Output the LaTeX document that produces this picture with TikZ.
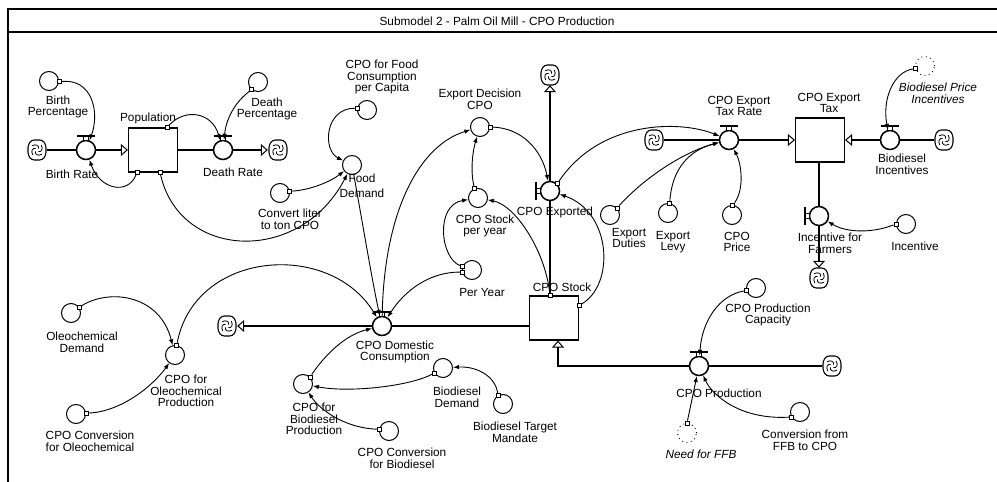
\documentclass[tikz,border=0pt]{standalone}
\usepackage{fontspec}
\setmainfont{Liberation Sans}
\usetikzlibrary{arrows.meta}
\tikzset{
  cloudpic/.pic={
    \draw[line width=1.1pt,rounded corners=2.8pt,fill=white]
      (-9,-5) -- (-5.5,-10) -- (5.5,-10) -- (9,-5) -- (9,5) -- (5.5,10) -- (-5.5,10) -- (-9,5) -- cycle;
    \foreach \r in {0,90,180,270}{
      \draw[line width=0.8pt,rotate=\r] (-5,-4.2) .. controls (-1,-6.5) and (2.2,-4.5) .. (1.6,-1.3);}
  },
  valvebarh/.pic={
    \draw[line width=1.3pt] (-9,-14) -- (9,-14);
    \draw[line width=0.8pt,fill=white] (-2.2,-14) rectangle (2.2,-9.5);
  },
  valvebarv/.pic={
    \draw[line width=1.3pt] (-14,-9) -- (-14,9);
    \draw[line width=0.8pt,fill=white] (-14,-2.2) rectangle (-9.5,2.2);
  }
}
\begin{document}
\begin{tikzpicture}[x=1pt,y=-1pt,
  every node/.style={font=\fontsize{11.8}{11.6}\selectfont},
  aux/.style={circle,draw,line width=1pt,minimum size=19pt,inner sep=0pt},
  valve/.style={circle,draw,line width=1.5pt,minimum size=19pt,inner sep=0pt,fill=white},
  ghost/.style={circle,draw,line width=1pt,dash pattern=on 0.8pt off 3.6pt,minimum size=19pt,inner sep=0pt},
  stock/.style={rectangle,draw,line width=1.2pt,minimum width=49pt,minimum height=44pt,inner sep=0pt},
  cloudnode/.style={circle,minimum size=20pt,inner sep=0pt},
  tailsq/.style={rectangle,draw,line width=0.8pt,fill=white,minimum size=4pt,inner sep=0pt},
  lbl/.style={align=center,inner sep=0pt},
  ilbl/.style={align=center,inner sep=0pt,font=\fontsize{11.8}{11.6}\selectfont\itshape},
  info/.style={line width=0.9pt,-{Latex[length=6pt,width=4.5pt]}},
  pipe/.style={line width=1.2pt},
  flowarrow/.style={line width=1.2pt,-{Triangle[open,length=7pt,width=12pt,line width=1pt]}},
]
\useasboundingbox (0,0) rectangle (997,482);

% frame and title bar
\draw[line width=1.5pt] (997,9) -- (8,9) -- (8,482);
\draw[line width=1.2pt] (8,32) -- (997,32);
\node (title) at (497,21) {Submodel 2 - Palm Oil Mill - CPO Production};

% ---------- population sector ----------
\node[cloudnode] (cloudBR) at (37,150) {};
\node[valve] (BirthRate) at (86,150) {};
\node[stock] (Population) at (153,150) {};
\node[valve] (DeathRate) at (223,150) {};
\node[cloudnode] (cloudDR) at (278,150) {};
\node[aux] (BirthPct) at (49,81) {};
\node[aux] (DeathPct) at (258,82) {};
\node[aux] (ConvertLiter) at (280,193) {};
\node[aux] (FoodCap) at (367,110) {};
\node[aux] (FoodDemand) at (352,165) {};

% ---------- CPO stock and outflows ----------
\node[stock] (CPOStock) at (554,318) {};
\node[valve] (CPODom) at (382,326) {};
\node[cloudnode] (cloudDom) at (227,326) {};
\node[valve] (CPOExported) at (550,191) {};
\node[cloudnode] (cloudEx) at (550,75) {};
\node[aux] (ExportDec) at (480,127) {};
\node[aux] (StockPerYear) at (478,198) {};
\node[aux] (PerYear) at (472,270) {};

% ---------- export tax ----------
\node[aux] (ExportDuties) at (610,215) {};
\node[aux] (ExportLevy) at (668,213) {};
\node[aux] (CPOPrice) at (732,215) {};
\node[cloudnode] (cloudTax) at (654,140) {};
\node[valve] (TaxRate) at (729,140) {};
\node[stock] (ExportTax) at (820,140) {};
\node[valve] (BioInc) at (890,140) {};
\node[cloudnode] (cloudBio) at (944,140) {};
\node[ghost] (BioPriceInc) at (925,66) {};
\node[valve] (IncFarm) at (819,216) {};
\node[cloudnode] (cloudInc) at (819,278) {};
\node[aux] (Incentive) at (906,224) {};

% ---------- domestic uses ----------
\node[aux] (OleoDemand) at (71,313) {};
\node[aux] (CPOOleo) at (175,355) {};
\node[aux] (ConvOleo) at (76,414) {};
\node[aux] (CPOBio) at (303,384) {};
\node[aux] (BioDemand) at (443,368) {};
\node[aux] (BioTarget) at (503,404) {};
\node[aux] (ConvBio) at (389,431) {};

% ---------- production inflow ----------
\node[valve] (CPOProd) at (699,366) {};
\node[cloudnode] (cloudProd) at (832,366) {};
\coordinate (bendP) at (558,366);
\node[aux] (ProdCap) at (756,288) {};
\node[ghost] (NeedFFB) at (687,433) {};
\node[aux] (ConvFFB) at (800,412) {};

% clouds
\foreach \c in {cloudBR,cloudDR,cloudDom,cloudEx,cloudTax,cloudBio,cloudInc,cloudProd}
  \pic at (\c) {cloudpic};

% flows (pipes)
\draw[pipe] (cloudBR) -- (BirthRate);
\draw[flowarrow] (BirthRate) -- (BirthRate -| Population.west);
\draw[pipe] (DeathRate -| Population.east) -- (DeathRate);
\draw[flowarrow] (DeathRate) -- (cloudDR);
\draw[pipe] (CPODom -| CPOStock.west) -- (CPODom);
\draw[flowarrow] (CPODom) -- (cloudDom);
\draw[pipe] (CPOExported |- CPOStock.north) -- (CPOExported);
\draw[flowarrow] (CPOExported) -- (cloudEx);
\draw[pipe] (cloudTax) -- (TaxRate);
\draw[flowarrow] (TaxRate) -- (TaxRate -| ExportTax.west);
\draw[pipe] (cloudBio) -- (BioInc);
\draw[flowarrow] (BioInc) -- (BioInc -| ExportTax.east);
\draw[pipe] (IncFarm |- ExportTax.south) -- (IncFarm);
\draw[flowarrow] (IncFarm) -- (cloudInc);
\draw[pipe] (cloudProd) -- (CPOProd);
\draw[flowarrow] (CPOProd) -- (bendP) -- (bendP |- CPOStock.south);

% valve handles
\foreach \v in {BirthRate,DeathRate,CPODom,TaxRate,BioInc,CPOProd}
  \pic at (\v) {valvebarh};
\foreach \v in {CPOExported,IncFarm}
  \pic at (\v) {valvebarv};

% connector tails
\node[tailsq] (t1) at (BirthPct.-5) {};
\node[tailsq] (t2) at ([xshift=9pt]Population.south west) {};
\node[tailsq] (t3) at ([xshift=-11pt]Population.north east) {};
\node[tailsq] (t4) at (DeathPct.-130) {};
\node[tailsq] (t5) at ([xshift=-18pt]Population.south east) {};
\node[tailsq] (t6) at (ConvertLiter.10) {};
\node[tailsq] (t7) at (FoodCap.170) {};
\node[tailsq] (t9) at (ExportDec.east) {};
\node[tailsq] (t10) at (StockPerYear.110) {};
\node[tailsq] (t11) at (PerYear.160) {};
\node[tailsq] (t12) at (PerYear.192) {};
\node[tailsq] (t13) at (CPOExported |- CPOStock.north) {};
\node[tailsq] (t14) at ([yshift=-10pt]CPOStock.north east) {};
\node[tailsq] (t15) at (CPOExported.45) {};
\node[tailsq] (t16) at (ExportDuties.45) {};
\node[tailsq] (t17) at (ExportLevy.80) {};
\node[tailsq] (t18) at (CPOPrice.85) {};
\node[tailsq] (t19) at (BioPriceInc.195) {};
\node[tailsq] (t20) at (Incentive.180) {};
\node[tailsq] (t21) at (OleoDemand.35) {};
\node[tailsq] (t22) at (ConvOleo.5) {};
\node[tailsq] (t23) at (CPOOleo.80) {};
\node[tailsq] (t24) at (CPOBio.45) {};
\node[tailsq] (t25) at (BioDemand.210) {};
\node[tailsq] (t26) at (BioTarget.120) {};
\node[tailsq] (t27) at (ConvBio.170) {};
\node[tailsq] (t28) at (ProdCap.195) {};
\node[tailsq] (t29) at (NeedFFB.90) {};
\node[tailsq] (t30) at (ConvFFB.210) {};

% information links
\draw[info] (t1) .. controls (92,78) and (100,112) .. (BirthRate);
\draw[info] (t2) .. controls (128,195) and (100,190) .. (BirthRate);
\draw[info] (t3) .. controls (185,108) and (212,112) .. (DeathRate);
\draw[info] (t4) .. controls (234,103) and (226,120) .. (DeathRate);
\draw[info] (t5) .. controls (180,260) and (300,265) .. (FoodDemand);
\draw[info] (t6) .. controls (310,190) and (330,182) .. (FoodDemand);
\draw[info] (t7) .. controls (325,108) and (322,150) .. (FoodDemand);
\draw[info] (FoodDemand) .. controls (362,220) and (372,280) .. (CPODom);
\draw[info] (CPODom) .. controls (384,210) and (420,145) .. (ExportDec);
\draw[info] (t9) .. controls (522,128) and (542,150) .. (CPOExported);
\draw[info] (t10) .. controls (470,170) and (473,150) .. (ExportDec);
\draw[info] (t11) .. controls (440,258) and (435,205) .. (StockPerYear);
\draw[info] (t12) .. controls (430,272) and (405,290) .. (CPODom);
\draw[info] (t13) .. controls (545,250) and (515,205) .. (StockPerYear);
\draw[info] (t14) .. controls (615,285) and (612,212) .. (CPOExported);
\draw[info] (t15) .. controls (600,120) and (680,120) .. (TaxRate);
\draw[info] (t16) .. controls (650,172) and (690,150) .. (TaxRate);
\draw[info] (t17) .. controls (672,168) and (690,150) .. (TaxRate);
\draw[info] (t18) .. controls (744,190) and (742,165) .. (TaxRate);
\draw[info] (t19) .. controls (893,72) and (882,100) .. (BioInc);
\draw[info] (t20) .. controls (870,234) and (845,232) .. (IncFarm);
\draw[info] (t21) .. controls (110,288) and (160,295) .. (CPOOleo);
\draw[info] (t22) .. controls (120,412) and (152,387) .. (CPOOleo);
\draw[info] (t23) .. controls (195,250) and (330,240) .. (CPODom);
\draw[info] (t24) .. controls (325,355) and (345,335) .. (CPODom);
\draw[info] (t25) .. controls (410,386) and (350,393) .. (CPOBio);
\draw[info] (t26) .. controls (495,375) and (475,366) .. (BioDemand);
\draw[info] (t27) .. controls (345,428) and (320,410) .. (CPOBio);
\draw[info] (t28) .. controls (720,295) and (702,320) .. (CPOProd);
\draw[info] (t29) -- (CPOProd);
\draw[info] (t30) .. controls (740,420) and (712,395) .. (CPOProd);

% labels
\node[lbl] (lBirthPct) at (58,107) {Birth\\Percentage};
\node[lbl] (lBirthRate) at (72,174) {Birth Rate};
\node[lbl] (lPop) at (148,118) {Population};
\node[lbl] (lDeathRate) at (233,172) {Death Rate};
\node[lbl] (lDeathPct) at (267,109) {Death\\Percentage};
\node[lbl] (lConv) at (290,219) {Convert liter\\to ton CPO};
\node[lbl] (lFoodCap) at (382,77) {CPO for Food\\Consumption\\per Capita};
\node[lbl] (lFoodDem) at (362,186) {Food\\[3pt]Demand};
\node[lbl] (lExpDec) at (480,99) {Export Decision\\CPO};
\node[lbl] (lSPY) at (485,226) {CPO Stock\\per year};
\node[lbl] (lPerYear) at (482,292) {Per Year};
\node[lbl] (lExported) at (555,212) {CPO Exported};
\node[lbl] (lStock) at (562,287) {CPO Stock};
\node[lbl] (lDom) at (395,352) {CPO Domestic\\Consumption};
\node[lbl] (lDuties) at (629,238) {Export\\Duties};
\node[lbl] (lLevy) at (673,242) {Export\\Levy};
\node[lbl] (lPrice) at (737,242) {CPO\\Price};
\node[lbl] (lTaxRate) at (739,106) {CPO Export\\Tax Rate};
\node[lbl] (lTax) at (829,103) {CPO Export\\Tax};
\node[lbl] (lBioInc) at (902,164) {Biodiesel\\Incentives};
\node[ilbl] (lBioPrice) at (938,93) {Biodiesel Price\\Incentives};
\node[lbl] (lIncFarm) at (830,243) {Incentive for\\Farmers};
\node[lbl] (lInc) at (915,246) {Incentive};
\node[lbl] (lOleoDem) at (82,342) {Oleochemical\\Demand};
\node[lbl] (lCPOOleo) at (186,391) {CPO for\\Oleochemical\\Production};
\node[lbl] (lConvOleo) at (90,441) {CPO Conversion\\for Oleochemical};
\node[lbl] (lCPOBio) at (314,419) {CPO for\\Biodiesel\\Production};
\node[lbl] (lBioDem) at (457,397) {Biodiesel\\Demand};
\node[lbl] (lBioTarget) at (515,432) {Biodiesel Target\\Mandate};
\node[lbl] (lConvBio) at (402,458) {CPO Conversion\\for Biodiesel};
\node[lbl] (lProd) at (719,393) {CPO Production};
\node[lbl] (lCap) at (768,315) {CPO Production\\Capacity};
\node[ilbl] (lNeed) at (701,454) {Need for FFB};
\node[lbl] (lConvFFB) at (805,440) {Conversion from\\FFB to CPO};
\end{tikzpicture}
\end{document}
